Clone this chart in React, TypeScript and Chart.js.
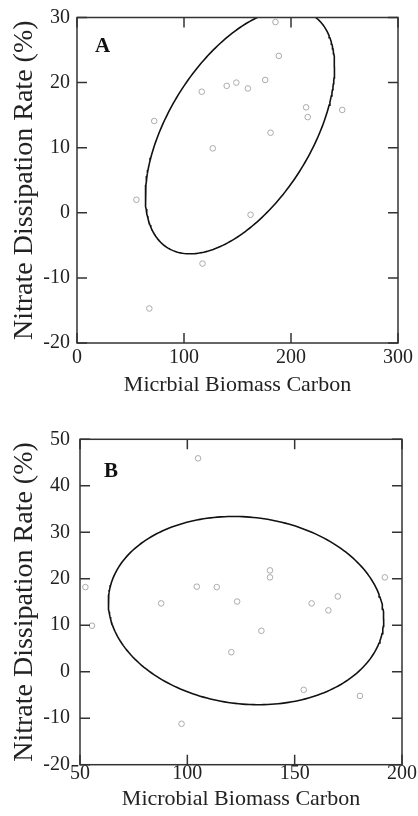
import React, { useEffect, useRef } from 'react';
import { Chart, registerables } from 'chart.js';

Chart.register(...registerables);

// Panel A data
const xA = [185.5, 188.6, 116.6, 139.9, 148.9, 159.7, 175.9, 72.2, 180.9, 126.9, 214.1, 215.6, 247.9, 55.5, 162.2, 117.3, 67.6];
const yA = [29.3, 24.1, 18.6, 19.5, 20.0, 19.1, 20.4, 14.1, 12.3, 9.9, 16.2, 14.7, 15.8, 2.0, -0.3, -7.8, -14.7];
// Panel B data
const xB = [105.0, 52.5, 104.4, 113.7, 87.8, 55.6, 138.5, 138.5, 123.2, 157.9, 165.7, 170.1, 192.0, 134.5, 120.5, 154.2, 180.4, 97.3];
const yB = [45.9, 18.2, 18.3, 18.2, 14.7, 9.9, 21.8, 20.3, 15.1, 14.7, 13.2, 16.2, 20.3, 8.8, 4.2, -3.9, -5.2, -11.2];

// Confidence ellipse parameters: [centerX, centerY, halfWidthX, halfHeightY, phase]
const ellipseA = [152.3, 12.5, 88.4, 18.8, 1.014];
const ellipseB = [127.35, 13.15, 64.15, 20.25, 1.661];

const xRangeA = [0, 300, 100];
const yRangeA = [-20, 30, 10];
const xRangeB = [50, 200, 50];
const yRangeB = [-20, 50, 10];

const xTitleA = 'Micrbial Biomass Carbon';
const xTitleB = 'Microbial Biomass Carbon';
const yTitle = 'Nitrate Dissipation Rate (%)';

const FONT = '"Liberation Serif", "Times New Roman", serif';

function ellipsePoints(p: number[]) {
  const [cx, cy, rx, ry, d] = p;
  const pts: { x: number; y: number }[] = [];
  const n = 240;
  for (let i = 0; i <= n; i++) {
    const t = (i / n) * Math.PI * 2;
    pts.push({ x: cx + rx * Math.cos(t), y: cy + ry * Math.cos(t - d) });
  }
  return pts;
}

type PanelCfg = {
  xs: number[];
  ys: number[];
  ell: number[];
  xr: number[];
  yr: number[];
  xTitle: string;
  letter: string;
  letterDx: number;
  letterDy: number;
  pad: { top: number; right: number };
  yWidth: number;
  xHeight: number;
  xTickPad: number;
  yTickPad: number;
  xTitlePad: number;
};

const frame = {
  id: 'frame',
  afterDraw(chart: any, _a: any, opts: any) {
    const { ctx, chartArea: a, scales } = chart;
    ctx.save();
    ctx.strokeStyle = '#333';
    ctx.lineWidth = 1.5;
    ctx.strokeRect(a.left, a.top, a.right - a.left, a.bottom - a.top);
    const L = 10;
    ctx.beginPath();
    scales.x.ticks.forEach((t: any) => {
      const px = scales.x.getPixelForValue(t.value);
      ctx.moveTo(px, a.bottom);
      ctx.lineTo(px, a.bottom - L);
      ctx.moveTo(px, a.top);
      ctx.lineTo(px, a.top + L);
    });
    scales.y.ticks.forEach((t: any) => {
      const py = scales.y.getPixelForValue(t.value);
      ctx.moveTo(a.left, py);
      ctx.lineTo(a.left + L, py);
      ctx.moveTo(a.right, py);
      ctx.lineTo(a.right - L, py);
    });
    ctx.stroke();
    ctx.fillStyle = '#111';
    ctx.font = 'bold 21px ' + FONT;
    ctx.textBaseline = 'alphabetic';
    ctx.fillText(opts.letter, a.left + opts.dx, a.top + opts.dy);
    ctx.restore();
  },
};

function Panel({ cfg, top }: { cfg: PanelCfg; top: number }) {
  const ref = useRef<HTMLCanvasElement>(null);
  useEffect(() => {
    const c = ref.current!;
    const chart = new Chart(c, {
      type: 'scatter',
      data: {
        datasets: [
          {
            data: ellipsePoints(cfg.ell),
            showLine: true,
            pointRadius: 0,
            borderColor: '#111',
            borderWidth: 1.6,
            fill: false,
          } as any,
          {
            data: cfg.xs.map((x, i) => ({ x, y: cfg.ys[i] })),
            pointRadius: 2.8,
            pointBorderWidth: 1,
            pointBorderColor: '#aaaaaa',
            pointBackgroundColor: 'rgba(255,255,255,0)',
            showLine: false,
          },
        ],
      },
      options: {
        animation: false,
        responsive: false,
        devicePixelRatio: 1,
        layout: { padding: { top: cfg.pad.top, right: cfg.pad.right, left: 0, bottom: 0 } },
        plugins: {
          legend: { display: false },
          tooltip: { enabled: false },
          frame: { letter: cfg.letter, dx: cfg.letterDx, dy: cfg.letterDy },
        } as any,
        scales: {
          x: {
            type: 'linear',
            min: cfg.xr[0],
            max: cfg.xr[1],
            ticks: {
              stepSize: cfg.xr[2],
              padding: cfg.xTickPad,
              color: '#222',
              font: { family: FONT, size: 20, lineHeight: 1 },
              maxRotation: 0,
              callback: (v: any) => String(v),
            },
            grid: { display: false, drawTicks: false },
            border: { display: false },
            title: {
              display: true,
              text: cfg.xTitle,
              color: '#222',
              font: { family: FONT, size: 22, lineHeight: 1 },
              padding: { top: 0, bottom: cfg.xTitlePad },
            },
            afterFit: (s: any) => {
              s.height = cfg.xHeight;
            },
          },
          y: {
            type: 'linear',
            min: cfg.yr[0],
            max: cfg.yr[1],
            ticks: {
              stepSize: cfg.yr[2],
              padding: cfg.yTickPad,
              color: '#222',
              font: { family: FONT, size: 20, lineHeight: 1 },
              callback: (v: any) => String(v),
            },
            grid: { display: false, drawTicks: false },
            border: { display: false },
            title: {
              display: true,
              text: yTitle,
              color: '#222',
              font: { family: FONT, size: 28, lineHeight: 1 },
              padding: { top: 10.5, bottom: 0 },
            },
            afterFit: (s: any) => {
              s.width = cfg.yWidth;
            },
          },
        },
      },
      plugins: [frame],
    });
    return () => chart.destroy();
  }, []);
  return (
    <canvas
      ref={ref}
      width={418}
      height={408}
      style={{ position: 'fixed', left: 0, top, width: 418, height: 408, display: 'block' }}
    />
  );
}

const cfgA: PanelCfg = {
  xs: xA,
  ys: yA,
  ell: ellipseA,
  xr: xRangeA,
  yr: yRangeA,
  xTitle: xTitleA,
  letter: 'A',
  letterDx: 18,
  letterDy: 34.5,
  pad: { top: 17.5, right: 19 },
  yWidth: 77,
  xHeight: 65,
  xTickPad: 5,
  yTickPad: 7,
  xTitlePad: 12,
};

const cfgB: PanelCfg = {
  xs: xB,
  ys: yB,
  ell: ellipseB,
  xr: xRangeB,
  yr: yRangeB,
  xTitle: xTitleB,
  letter: 'B',
  letterDx: 24,
  letterDy: 37.4,
  pad: { top: 31.3, right: 16 },
  yWidth: 80,
  xHeight: 51.3,
  xTickPad: -1,
  yTickPad: 10,
  xTitlePad: 6,
};

export default function App() {
  return (
    <div style={{ position: 'relative', width: 418, height: 816 }}>
      <Panel cfg={cfgA} top={0} />
      <Panel cfg={cfgB} top={408} />
    </div>
  );
}
